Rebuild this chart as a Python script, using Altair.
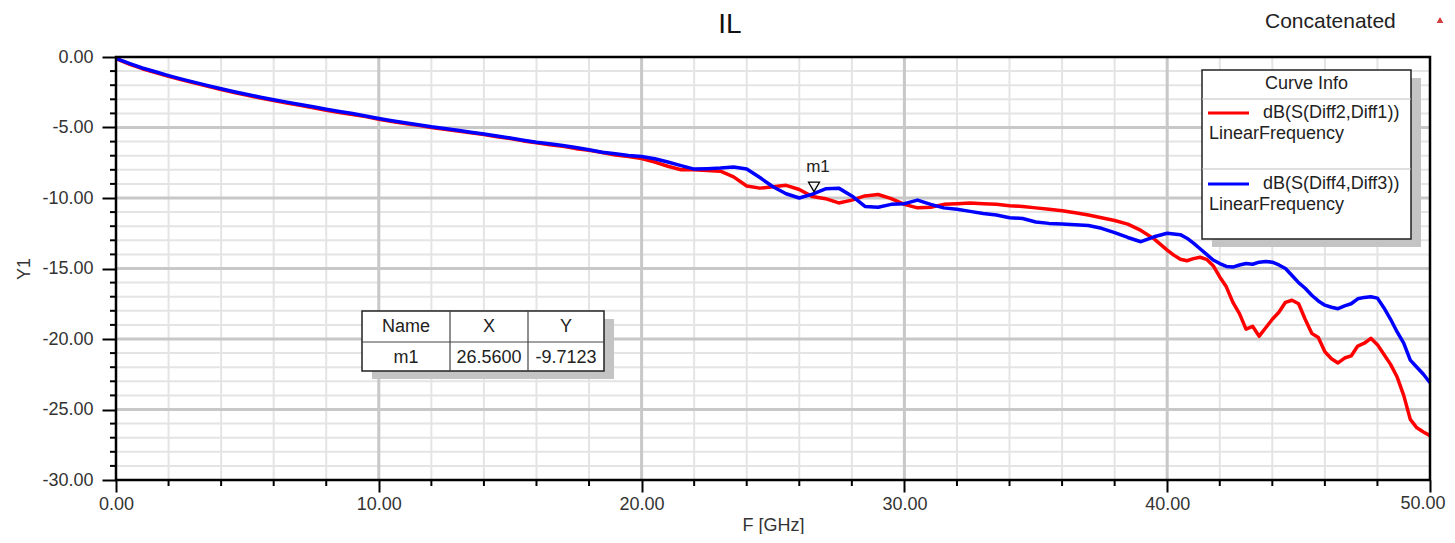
import altair as alt
import pandas as pd

# ---------------- data ----------------
FREQ = [
    0.0, 0.5, 1.0, 1.5, 2.0, 2.5, 3.0, 3.5, 4.0, 4.5,
    5.0, 5.5, 6.0, 6.5, 7.0, 7.5, 8.0, 8.5, 9.0, 9.5,
    10.0, 10.5, 11.0, 11.5, 12.0, 12.5, 13.0, 13.5, 14.0, 14.5,
    15.0, 15.5, 16.0, 16.5, 17.0, 17.5, 18.0, 18.5, 19.0, 19.5,
    20.0, 20.5, 21.0, 21.5, 22.0, 22.5, 23.0, 23.5, 24.0, 24.5,
    25.0, 25.5, 26.0, 26.5, 27.0, 27.5, 28.0, 28.5, 29.0, 29.5,
    30.0, 30.5, 31.0, 31.5, 32.0, 32.5, 33.0, 33.5, 34.0, 34.5,
    35.0, 35.5, 36.0, 36.5, 37.0, 37.5, 38.0, 38.5, 39.0, 39.5,
    40.0, 40.25, 40.5, 40.75, 41.0, 41.25, 41.5, 41.75, 42.0, 42.25,
    42.5, 42.75, 43.0, 43.25, 43.5, 43.75, 44.0, 44.25, 44.5, 44.75,
    45.0, 45.25, 45.5, 45.75, 46.0, 46.25, 46.5, 46.75, 47.0, 47.25,
    47.5, 47.75, 48.0, 48.25, 48.5, 48.75, 49.0, 49.25, 49.5, 49.75,
    50.0,
]

RED_DB = [
    -0.12, -0.50, -0.83, -1.10, -1.37, -1.62, -1.85, -2.08, -2.31, -2.52,
    -2.72, -2.91, -3.09, -3.27, -3.43, -3.60, -3.77, -3.93, -4.08, -4.23,
    -4.42, -4.57, -4.71, -4.85, -5.00, -5.12, -5.25, -5.38, -5.50, -5.66,
    -5.78, -5.95, -6.08, -6.22, -6.33, -6.50, -6.62, -6.78, -6.95, -7.05,
    -7.20, -7.45, -7.75, -8.00, -8.00, -8.05, -8.10, -8.50, -9.15, -9.30,
    -9.20, -9.10, -9.40, -9.90, -10.05, -10.35, -10.15, -9.85, -9.75, -10.05,
    -10.45, -10.70, -10.65, -10.45, -10.40, -10.35, -10.40, -10.45, -10.55, -10.60,
    -10.70, -10.80, -10.90, -11.05, -11.20, -11.40, -11.60, -11.85, -12.30, -12.90,
    -13.70, -14.05, -14.35, -14.45, -14.30, -14.20, -14.35, -14.80, -15.60, -16.30,
    -17.40, -18.20, -19.30, -19.10, -19.80, -19.20, -18.60, -18.10, -17.40, -17.25,
    -17.50, -18.60, -19.60, -19.90, -20.90, -21.40, -21.70, -21.35, -21.20, -20.50,
    -20.30, -19.95, -20.40, -21.10, -21.80, -22.70, -24.00, -25.70, -26.30, -26.60,
    -26.85,
]

BLUE_DB = [
    -0.10, -0.45, -0.78, -1.05, -1.32, -1.57, -1.80, -2.03, -2.25, -2.46,
    -2.66, -2.85, -3.03, -3.20, -3.37, -3.53, -3.70, -3.86, -4.01, -4.18,
    -4.36, -4.52, -4.66, -4.80, -4.95, -5.07, -5.20, -5.33, -5.46, -5.60,
    -5.74, -5.90, -6.04, -6.15, -6.28, -6.42, -6.58, -6.75, -6.86, -6.98,
    -7.06, -7.22, -7.45, -7.70, -7.95, -7.92, -7.88, -7.80, -7.95, -8.55,
    -9.20, -9.70, -10.00, -9.72, -9.35, -9.30, -9.85, -10.60, -10.65, -10.45,
    -10.40, -10.15, -10.45, -10.70, -10.80, -10.95, -11.10, -11.20, -11.40, -11.45,
    -11.70, -11.80, -11.85, -11.90, -11.95, -12.15, -12.45, -12.80, -13.10, -12.75,
    -12.50, -12.55, -12.60, -12.85, -13.20, -13.60, -14.00, -14.40, -14.65, -14.85,
    -14.90, -14.75, -14.65, -14.70, -14.55, -14.50, -14.55, -14.75, -15.00, -15.50,
    -16.00, -16.40, -16.90, -17.30, -17.60, -17.75, -17.85, -17.65, -17.50, -17.15,
    -17.05, -17.00, -17.10, -17.80, -18.60, -19.50, -20.30, -21.50, -22.00, -22.50,
    -23.10,
]

SERIES_NAMES = ["dB(S(Diff2,Diff1))", "dB(S(Diff4,Diff3))"]
SERIES_SUB = "LinearFrequency"
SERIES_COLORS = ["#ff0000", "#0000ff"]

MARKER_NAME = "m1"
MARKER_F = 26.56
MARKER_DB = -9.7123
TABLE_HEADERS = ["Name", "X", "Y"]

X_TICKS = [0, 10, 20, 30, 40, 50]
X_MINOR = [2, 4, 6, 8, 12, 14, 16, 18, 22, 24, 26, 28, 32, 34, 36, 38, 42, 44, 46, 48]
Y_TICKS = [0, -5, -10, -15, -20, -25, -30]
Y_MINOR = [-1, -2, -3, -4, -6, -7, -8, -9, -11, -12, -13, -14, -16, -17, -18, -19,
           -21, -22, -23, -24, -26, -27, -28, -29]
X_MAJOR_GRID = [10, 20, 30, 40]
Y_MAJOR_GRID = [-5, -10, -15, -20, -25]

TITLE = "IL"
SUBTITLE = "Concatenated"
X_TITLE = "F [GHz]"
Y_TITLE = "Y1"

assert len(FREQ) == len(RED_DB) == len(BLUE_DB)

# ---------------- layout ----------------
W, H = 1314, 423
FONT = "Liberation Sans"
xs = alt.Scale(domain=[0, 50], nice=False, zero=False)
ys = alt.Scale(domain=[-30, 0], nice=False, zero=False)

X_LAST = X_TICKS[-1]
X_LABEL_EXPR = f"datum.value == {X_LAST} ? '' : format(datum.value, '.2f')"
Y_LABEL_EXPR = "(datum.value < 0 ? '-' : '') + format(abs(datum.value), '.2f')"

x_axis = alt.Axis(values=X_TICKS, labelExpr=X_LABEL_EXPR, labelFontSize=18, labelColor="#333",
                  labelPadding=3, tickSize=12, tickColor="black", tickWidth=2, domain=False,
                  grid=False, title=X_TITLE, titleFontSize=18, titleFontWeight="normal",
                  titleColor="#333", titlePadding=3, labelFont=FONT, titleFont=FONT,
                  labelBound=False, labelFlush=False, labelOverlap=False)
y_axis = alt.Axis(values=Y_TICKS, labelExpr=Y_LABEL_EXPR, labelFontSize=18, labelColor="#333",
                  labelPadding=9, tickSize=14, tickColor="black", tickWidth=2, domain=False,
                  grid=False, title=Y_TITLE, titleFontSize=18, titleFontWeight="normal",
                  titleColor="#333", titlePadding=8, labelFont=FONT, titleFont=FONT)

df_red = pd.DataFrame({"F": FREQ, "dB": RED_DB})
df_blue = pd.DataFrame({"F": FREQ, "dB": BLUE_DB})
one = pd.DataFrame({"a": [0]})


def X(field):
    return alt.X(field, scale=xs, axis=x_axis)


def Y(field):
    return alt.Y(field, scale=ys, axis=y_axis)


# grid lines
layers = []
layers.append(alt.Chart(pd.DataFrame({"F": X_MINOR})).mark_rule(color="#e4e4e4", strokeWidth=2)
              .encode(x=X("F:Q")))
layers.append(alt.Chart(pd.DataFrame({"dB": Y_MINOR})).mark_rule(color="#e4e4e4", strokeWidth=2)
              .encode(y=Y("dB:Q")))
layers.append(alt.Chart(pd.DataFrame({"F": X_MAJOR_GRID})).mark_rule(color="#c8c8c8", strokeWidth=3)
              .encode(x=X("F:Q")))
layers.append(alt.Chart(pd.DataFrame({"dB": Y_MAJOR_GRID})).mark_rule(color="#c8c8c8", strokeWidth=3)
              .encode(y=Y("dB:Q")))
# minor ticks
layers.append(alt.Chart(pd.DataFrame({"F": X_MINOR})).mark_rule(color="black", strokeWidth=2)
              .encode(x=X("F:Q"), y=alt.value(H), y2=alt.value(H + 6)))
layers.append(alt.Chart(pd.DataFrame({"dB": Y_MINOR})).mark_rule(color="black", strokeWidth=2)
              .encode(y=Y("dB:Q"), x=alt.value(-6), x2=alt.value(0)))

# last x label, nudged left so that it stays inside the page
layers.append(alt.Chart(pd.DataFrame({"F": [X_LAST]})).mark_text(
    fontSize=18, color="#333", baseline="top", align="center", dx=-7, font=FONT)
    .encode(x=X("F:Q"), y=alt.value(H + 15), text=alt.value(f"{X_LAST:.2f}")))

# curves
for df, col in [(df_red, SERIES_COLORS[0]), (df_blue, SERIES_COLORS[1])]:
    layers.append(alt.Chart(df).mark_line(color=col, strokeWidth=3.5, strokeJoin="round")
                  .encode(x=X("F:Q"), y=Y("dB:Q")))

# frame
layers.append(alt.Chart(one).mark_rect(fillOpacity=0, stroke="black", strokeWidth=2.5)
              .encode(x=alt.value(0), x2=alt.value(W), y=alt.value(0), y2=alt.value(H)))

# marker
df_m = pd.DataFrame({"F": [MARKER_F], "dB": [MARKER_DB], "name": [MARKER_NAME]})
layers.append(alt.Chart(df_m).mark_point(shape="triangle-down", size=120, filled=True, fill="#f4f4f4",
                                         stroke="black", strokeWidth=1.3, opacity=1, yOffset=-7)
              .encode(x=X("F:Q"), y=Y("dB:Q")))
layers.append(alt.Chart(df_m).mark_text(fontSize=17, color="#222", dy=-27, dx=4, font=FONT)
              .encode(x=X("F:Q"), y=Y("dB:Q"), text="name:N"))


def txt(s, x, y, size=18, align="left", color="#222", baseline="middle"):
    return alt.Chart(one).mark_text(text=s, fontSize=size, align=align, baseline=baseline,
                                    color=color, font=FONT).encode(x=alt.value(x), y=alt.value(y))


def box(x1, y1, x2, y2, fill, stroke=None, sw=0):
    kw = dict(fill=fill, opacity=1)
    if stroke:
        kw.update(stroke=stroke, strokeWidth=sw)
    return alt.Chart(one).mark_rect(**kw).encode(x=alt.value(x1), x2=alt.value(x2),
                                                 y=alt.value(y1), y2=alt.value(y2))


def hline(x1, x2, y, color, w):
    return alt.Chart(one).mark_rule(color=color, strokeWidth=w).encode(
        x=alt.value(x1), x2=alt.value(x2), y=alt.value(y))


def vline(x, y1, y2, color, w):
    return alt.Chart(one).mark_rule(color=color, strokeWidth=w).encode(
        x=alt.value(x), y=alt.value(y1), y2=alt.value(y2))


# legend (Curve Info)
LX1, LY1, LX2, LY2 = 1086, 13, 1295, 182
layers.append(box(LX1 + 10, LY1 + 8, LX2 + 10, LY2 + 8, "#c4c4c4"))
layers.append(box(LX1, LY1, LX2, LY2, "white", "#222", 1.5))
layers.append(hline(LX1, LX2, 42, "#c0c0c0", 1.2))
layers.append(hline(LX1, LX2, 112, "#c0c0c0", 1.2))
layers.append(txt("Curve Info", (LX1 + LX2) / 2, 27, align="center"))
for i, yy in enumerate([56, 127]):
    layers.append(hline(1092, 1133, yy, SERIES_COLORS[i], 3))
    layers.append(txt(SERIES_NAMES[i], 1147, yy))
    layers.append(txt(SERIES_SUB, 1093, yy + 21))

# marker table
TX1, TY1, TX2, TY2 = 246, 254, 488, 314
layers.append(box(TX1 + 10, TY1 + 8, TX2 + 10, TY2 + 8, "#c4c4c4"))
layers.append(box(TX1, TY1, TX2, TY2, "white", "#222", 1.5))
layers.append(hline(TX1, TX2, 285, "#444", 1.2))
layers.append(vline(334, TY1, TY2, "#444", 1.2))
layers.append(vline(412, TY1, TY2, "#444", 1.2))
col_centers = [290, 373, 450]
row_vals = [MARKER_NAME, f"{MARKER_F:.4f}", f"{MARKER_DB:.4f}"]
for c, hdr, val in zip(col_centers, TABLE_HEADERS, row_vals):
    layers.append(txt(hdr, c, 270, align="center"))
    layers.append(txt(val, c, 301, align="center"))

# titles
layers.append(txt(TITLE, 614, -24, size=28, align="center", color="#111", baseline="alphabetic"))
layers.append(txt(SUBTITLE, 1149, -35, size=21, color="#222"))
layers.append(alt.Chart(one).mark_point(shape="triangle-up", size=45, filled=True, fill="#d23c3c",
                                        opacity=1).encode(x=alt.value(1324), y=alt.value(-37)))

chart = alt.layer(*layers).properties(
    width=W, height=H,
    autosize=alt.AutoSizeParams(type="none"),
    padding={"left": 108, "top": 49, "right": 16, "bottom": 54},
).configure(font=FONT).configure_view(stroke=None)

chart.save("out.html", embed_options={"renderer": "svg", "actions": False})
